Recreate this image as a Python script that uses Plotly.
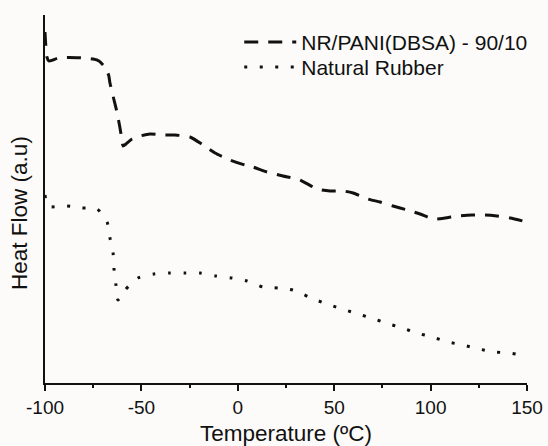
import plotly.graph_objects as go

# DSC traces, heat flow in arbitrary units (exo up)
temp_blend = [-100, -99.6, -99, -98, -96, -93, -88, -80, -75, -72, -69, -67,
              -66.3, -64.2, -62.7, -61.1, -60.1, -59.5, -58.0, -54.9, -50.7,
              -45.5, -39.3, -32.6, -24.8, -18.0, -11.8, -4.0, 3.7, 7.9, 15.1,
              23.4, 32.3, 41.1, 47.8, 54.6, 59.8, 67.5, 73.8, 80.5, 87.8, 94.5,
              101.2, 107.5, 113.7, 121.5, 128.2, 134.4, 141.2, 150]
hf_blend = [351, 338, 326, 322, 323, 325, 325.5, 325, 324, 322, 316, 308,
            300, 283, 271, 255, 243, 237, 239, 244, 247,
            249, 248, 248, 246, 238, 230, 223, 218, 216, 211,
            207, 203, 194, 192, 192, 190, 184, 181, 177, 173, 169,
            164, 165, 167, 168, 168, 167, 165, 161]

temp_nr = [-100, -99.5, -98.5, -97.4, -88.6, -80.8, -73.0, -67.8, -66.3, -64.7,
           -64.2, -63.2, -62.1, -58.5, -51.8, -43.5, -35.2, -27.4, -19.6, -11.3,
           -3.0, 4.8, 13.1, 20.9, 28.6, 36.9, 44.7, 52.5, 60.8, 69.1, 76.9, 85.2,
           92.9, 100.7, 109.0, 116.8, 125.1, 133.4, 141.2, 149.5]
hf_nr = [188, 182, 177, 176, 177, 175, 174, 161, 145, 130,
         114, 98, 83, 93, 105, 109, 110, 110, 110, 107,
         105, 102, 96, 95, 93, 86, 80, 75, 70, 65, 60, 55,
         50, 46, 41, 38, 34, 31, 30, 27]

x_ticks = [-100, -50, 0, 50, 100, 150]

FONT = "Liberation Sans, Arial, sans-serif"
INK = "#111111"

fig = go.Figure()
fig.add_trace(go.Scatter(
    x=temp_blend, y=hf_blend, mode="lines", name="NR/PANI(DBSA) - 90/10",
    legend="legend",
    line=dict(color=INK, width=3, dash="14px,10px", shape="spline", smoothing=0.6),
))
fig.add_trace(go.Scatter(
    x=temp_nr, y=hf_nr, mode="lines", name="Natural Rubber",
    legend="legend2",
    line=dict(color=INK, width=3, dash="3px,12.5px", shape="spline", smoothing=0.6),
))

legend_style = dict(
    x=0.403, xanchor="left", yanchor="middle",
    bgcolor="rgba(0,0,0,0)", borderwidth=0,
    font=dict(size=21, family=FONT, color=INK),
    itemwidth=52,
)

fig.update_layout(
    width=548, height=446,
    margin=dict(l=45, r=21, t=15, b=63, autoexpand=False),
    paper_bgcolor="#fcfbf9", plot_bgcolor="#fcfbf9",
    font=dict(family=FONT, color=INK, size=20),
    showlegend=True,
    legend=dict(y=0.926, **legend_style),
    legend2=dict(y=0.858, **legend_style),
    annotations=[dict(
        text="Heat Flow (a.u)", xref="paper", yref="paper",
        x=-0.052, y=0.462, xanchor="center", yanchor="middle",
        textangle=-90, showarrow=False,
        font=dict(size=22.5, family=FONT, color=INK),
    )],
)

fig.update_xaxes(
    range=[-100, 150], tickvals=x_ticks, ticktext=[str(v) for v in x_ticks],
    showline=True, linecolor=INK, linewidth=2, mirror=False,
    ticks="outside", ticklen=6, tickwidth=1.5, tickcolor=INK,
    minor=dict(dtick=25, tick0=-75, ticks="outside", ticklen=3, tickwidth=1.5, tickcolor=INK),
    showgrid=False, zeroline=False,
    tickfont=dict(size=19, family=FONT, color=INK),
    title=dict(text="Temperature (ºC)", font=dict(size=22.5, family=FONT, color=INK), standoff=11),
)
fig.update_yaxes(
    range=[0, 368], showline=True, linecolor=INK, linewidth=2,
    showticklabels=False, ticks="", showgrid=False, zeroline=False,
)

fig.write_html("out.html")
